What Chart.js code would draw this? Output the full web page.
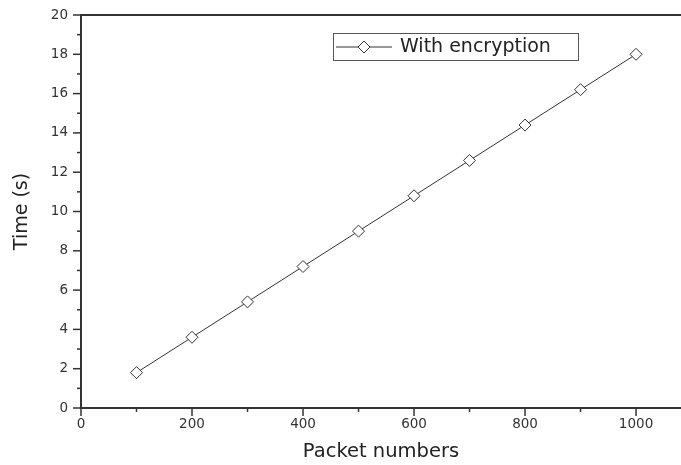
<!DOCTYPE html>
<html>
<head>
<meta charset="utf-8">
<script src="https://cdn.jsdelivr.net/npm/chart.js@4.4.1/dist/chart.umd.min.js"></script>
<style>
  body { margin: 0; background: #fff; }
  canvas { display: block; }
</style>
</head>
<body>
<canvas id="timeChart" width="681" height="465"></canvas>
<script>
// packet counts and measured time
const packets = [100, 200, 300, 400, 500, 600, 700, 800, 900, 1000];
const timeWithEncryption = [1.8, 3.6, 5.4, 7.2, 9.0, 10.8, 12.6, 14.4, 16.2, 18.0];
const seriesLabel = 'With encryption';
const xTitle = 'Packet numbers';
const yTitle = 'Time (s)';

const axisColor = '#333';
const fontFamily = '"DejaVu Sans", Arial, sans-serif';

// tick marks drawn outside the axes: long at labelled ticks, short between
const tickMarks = {
  id: 'tickMarks',
  afterDraw(chart) {
    const ctx = chart.ctx;
    const xs = chart.scales.x, ys = chart.scales.y;
    ctx.save();
    ctx.strokeStyle = axisColor;
    ctx.lineWidth = 1.5;
    ys.ticks.forEach(t => {
      const y = ys.getPixelForValue(t.value);
      const len = t.value % 2 === 0 ? 8 : 4;
      ctx.beginPath();
      ctx.moveTo(chart.chartArea.left - len, y);
      ctx.lineTo(chart.chartArea.left, y);
      ctx.stroke();
    });
    xs.ticks.forEach(t => {
      const x = xs.getPixelForValue(t.value);
      const len = t.value % 200 === 0 ? 8 : 4;
      ctx.beginPath();
      ctx.moveTo(x, chart.chartArea.bottom);
      ctx.lineTo(x, chart.chartArea.bottom + len);
      ctx.stroke();
    });
    // top frame line
    ctx.lineWidth = 2;
    ctx.beginPath();
    ctx.moveTo(chart.chartArea.left, chart.chartArea.top);
    ctx.lineTo(chart.width, chart.chartArea.top);
    ctx.stroke();
    ctx.restore();
  }
};

// boxed legend like the original figure
const boxLegend = {
  id: 'boxLegend',
  afterDraw(chart) {
    const ctx = chart.ctx;
    const ds = chart.data.datasets[0];
    ctx.save();
    ctx.strokeStyle = '#555';
    ctx.lineWidth = 1;
    ctx.strokeRect(333.5, 33.5, 245, 27);
    ctx.strokeStyle = axisColor;
    ctx.beginPath();
    ctx.moveTo(336, 47);
    ctx.lineTo(392, 47);
    ctx.stroke();
    ctx.fillStyle = '#fff';
    ctx.beginPath();
    ctx.moveTo(364, 41);
    ctx.lineTo(370, 47);
    ctx.lineTo(364, 53);
    ctx.lineTo(358, 47);
    ctx.closePath();
    ctx.fill();
    ctx.stroke();
    ctx.fillStyle = '#222';
    ctx.font = '19px ' + fontFamily;
    ctx.textBaseline = 'middle';
    ctx.fillText(ds.label, 400, 47);
    ctx.restore();
  }
};

new Chart(document.getElementById('timeChart'), {
  type: 'line',
  data: {
    datasets: [{
      label: seriesLabel,
      data: packets.map((p, i) => ({ x: p, y: timeWithEncryption[i] })),
      borderColor: axisColor,
      borderWidth: 1,
      pointStyle: 'rectRot',
      pointRadius: 6,
      pointBackgroundColor: '#fff',
      pointBorderColor: axisColor,
      pointBorderWidth: 1,
      tension: 0
    }]
  },
  options: {
    responsive: false,
    animation: false,
    layout: { autoPadding: false, padding: { top: 15, right: 0, left: 0, bottom: 0 } },
    plugins: { legend: { display: false }, tooltip: { enabled: false } },
    scales: {
      x: {
        type: 'linear',
        min: 0,
        max: 1081,
        afterFit: s => { s.height = 57; s.paddingLeft = 0; s.paddingRight = 0; },
        grid: { display: false },
        border: { color: axisColor, width: 2 },
        ticks: {
          stepSize: 100,
          includeBounds: false,
          autoSkip: false,
          maxRotation: 0,
          padding: 0,
          color: '#333',
          font: { family: fontFamily, size: 13.5 },
          callback: v => (v % 200 === 0 ? v : '')
        },
        title: {
          display: true,
          text: xTitle,
          color: '#222',
          font: { family: fontFamily, size: 19.5 },
          padding: { top: 2, bottom: 1 }
        }
      },
      y: {
        min: 0,
        max: 20,
        afterFit: s => { s.width = 81; },
        grid: { display: false },
        border: { color: axisColor, width: 2 },
        ticks: {
          stepSize: 1,
          autoSkip: false,
          padding: 5,
          color: '#333',
          font: { family: fontFamily, size: 13.5 },
          callback: v => (v % 2 === 0 ? v : '')
        },
        title: {
          display: true,
          text: yTitle,
          color: '#222',
          font: { family: fontFamily, size: 19 },
          padding: { bottom: 0, top: 11 }
        }
      }
    }
  },
  plugins: [tickMarks, boxLegend]
});
</script>
</body>
</html>
